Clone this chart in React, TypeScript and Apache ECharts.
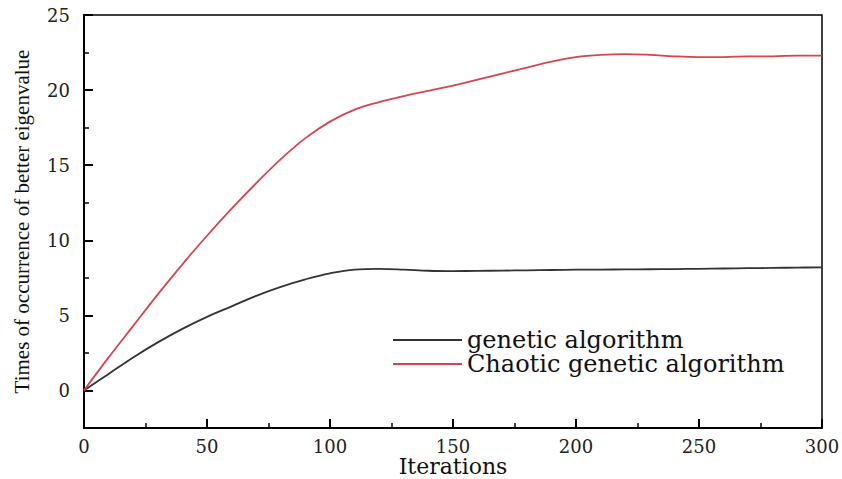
import React, { useEffect, useRef } from "react";
import * as echarts from "echarts";

const iterations = [0, 10, 20, 30, 40, 50, 60, 70, 80, 90, 100, 110, 120, 130, 140, 150, 160, 170, 180, 190, 200, 210, 220, 230, 240, 250, 260, 270, 280, 290, 300];
const geneticValues = [0, 1.1, 2.2, 3.2, 4.1, 4.9, 5.6, 6.3, 6.9, 7.4, 7.8, 8.05, 8.1, 8.05, 7.97, 7.95, 7.96, 7.98, 8.0, 8.02, 8.04, 8.05, 8.06, 8.07, 8.08, 8.1, 8.12, 8.14, 8.16, 8.18, 8.2];
const chaoticValues = [0, 2.2, 4.3, 6.4, 8.4, 10.3, 12.1, 13.8, 15.4, 16.8, 17.9, 18.7, 19.2, 19.6, 19.95, 20.3, 20.7, 21.1, 21.5, 21.9, 22.2, 22.35, 22.4, 22.35, 22.25, 22.2, 22.2, 22.25, 22.25, 22.3, 22.3];
const yMajorTicks = [0, 5, 10, 15, 20, 25];
const seriesNames = ["genetic algorithm", "Chaotic genetic algorithm"];
const xTitle = "Iterations";
const yTitle = "Times of occurrence of better eigenvalue";

const SERIF = "'Liberation Serif', 'Times New Roman', serif";
const WIDE = "'DejaVu Serif', serif";

export default function App() {
  const ref = useRef<HTMLDivElement>(null);
  useEffect(() => {
    if (!ref.current) return;
    document.body.style.margin = "0";
    const chart = echarts.init(ref.current, undefined, { renderer: "svg" });
    const axisLine = { show: true, onZero: false, lineStyle: { color: "#000", width: 2 } };
    const labelStyle = { color: "#222", fontFamily: WIDE, fontSize: 18, lineHeight: 18 };
    chart.setOption({
      animation: false,
      backgroundColor: "#fff",
      grid: {
        left: 84,
        right: 20,
        top: 15,
        bottom: 51,
        outerBoundsMode: "none",
        containLabel: false,
        show: true,
        borderColor: "#000",
        borderWidth: 1.5,
      },
      legend: {
        left: 388,
        top: 323,
        orient: "vertical",
        itemWidth: 69,
        itemHeight: 14,
        itemGap: 0,
        icon: "path://M0,0 L69,0 L69,2 L0,2 Z",
        textStyle: { fontFamily: WIDE, fontSize: 24, lineHeight: 24, color: "#111" },
        data: seriesNames,
      },
      xAxis: {
        type: "value",
        min: 0,
        max: 300,
        interval: 50,
        axisLine,
        axisTick: { show: true, inside: true, length: 9, lineStyle: { color: "#000", width: 2 } },
        minorTick: { show: true, splitNumber: 2, length: 5, lineStyle: { color: "#000", width: 1.5 } },
        splitLine: { show: false },
        axisLabel: { ...labelStyle, margin: 9 },
        name: xTitle,
        nameLocation: "middle",
        nameGap: 28,
        nameMoveOverlap: false,
        nameTextStyle: { fontFamily: WIDE, fontSize: 22, lineHeight: 21, color: "#111" },
      },
      yAxis: [
        {
          type: "value",
          min: -2.5,
          max: 25,
          interval: 2.5,
          axisLine,
          axisTick: { show: true, inside: true, length: 5, lineStyle: { color: "#000", width: 1.5 } },
          splitLine: { show: false },
          axisLabel: {
            ...labelStyle,
            margin: 14,
            formatter: (v: number) => (v >= 0 && Math.abs(v % 5) < 1e-6 ? String(v) : ""),
          },
          name: yTitle,
          nameLocation: "middle",
          nameRotate: 90,
          nameGap: 52,
          nameMoveOverlap: false,
          nameTextStyle: { fontFamily: SERIF, fontSize: 21, color: "#111" },
        },
        {
          type: "value",
          min: -2.5,
          max: 25,
          position: "left",
          axisLine: { show: false },
          axisLabel: { show: false },
          splitLine: { show: false },
          axisTick: {
            show: true,
            inside: true,
            length: 9,
            customValues: yMajorTicks,
            lineStyle: { color: "#000", width: 2 },
          },
        },
      ],
      series: [
        {
          name: seriesNames[0],
          type: "line",
          smooth: 0.4,
          symbol: "none",
          data: iterations.map((x, i) => [x, geneticValues[i]]),
          lineStyle: { color: "#333", width: 1.8 },
          itemStyle: { color: "#333" },
        },
        {
          name: seriesNames[1],
          type: "line",
          smooth: 0.4,
          symbol: "none",
          data: iterations.map((x, i) => [x, chaoticValues[i]]),
          lineStyle: { color: "#d9434c", width: 1.8 },
          itemStyle: { color: "#d9434c" },
        },
      ],
    });
    return () => chart.dispose();
  }, []);
  return <div ref={ref} style={{ width: 842, height: 479 }} />;
}
